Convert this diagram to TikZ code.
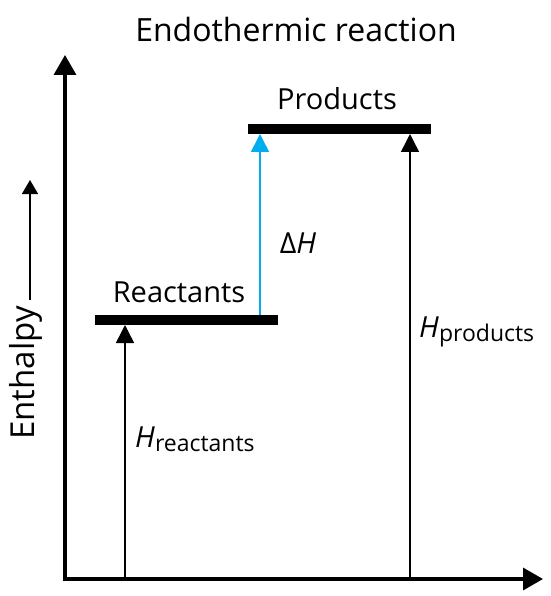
\documentclass[tikz,border=0pt]{standalone}
\usepackage{fontspec}
\setmainfont{Open Sans}
\usetikzlibrary{arrows.meta}
\definecolor{dhblue}{RGB}{0,174,239}
\newcommand{\subsz}[1]{\raisebox{-4pt}{\fontsize{23}{27}\selectfont #1}}
\begin{document}
\begin{tikzpicture}[x=1pt,y=-1pt,
  axis/.style={line width=3.5pt,-{Triangle[length=20pt,width=22pt]}},
  level/.style={line width=10pt},
  harrow/.style={line width=1.5pt,-{Triangle[length=18pt,width=18pt]}},
  lbl/.style={font=\fontsize{29}{33}\selectfont,inner sep=0pt}]
\useasboundingbox (0,0) rectangle (550,596);
\coordinate (ytop) at (65,55);
\coordinate (xend) at (543,579);
\coordinate (ybot) at (65,581);
\coordinate (xbeg) at (63,579);
\draw[axis] (ybot) -- (ytop);
\draw[axis] (xbeg) -- (xend);
\node[lbl,font=\fontsize{32}{36}\selectfont] (title) at (296,30) {Endothermic reaction};
% levels
\coordinate (rL) at (95,320); \coordinate (rR) at (278,320);
\coordinate (pL) at (248,129); \coordinate (pR) at (431,129);
\draw[level] (rL) -- (rR);
\draw[level] (pL) -- (pR);
\node[lbl] (react) at (179,292) {Reactants};
\node[lbl] (prod) at (337,99) {Products};
% arrows
\coordinate (hrb) at (125,579); \coordinate (hrt) at (125,325);
\coordinate (hpb) at (410,579); \coordinate (hpt) at (410,134);
\coordinate (dhb) at (260,315); \coordinate (dht) at (260,134);
\draw[harrow] (hrb) -- (hrt);
\draw[harrow] (hpb) -- (hpt);
\draw[harrow,dhblue] (dhb) -- (dht);
\node[lbl] (dH) at (298,243) {Δ\textit{H}};
\node[lbl,anchor=base west] (Hp) at (419,337) {\textit{H}\subsz{products}};
\node[lbl,anchor=base west] (Hr) at (135,447) {\textit{H}\subsz{reactants}};
% Enthalpy axis label
\node[lbl,font=\fontsize{33}{37}\selectfont,rotate=90,anchor=base] (enth) at (34,373) {Enthalpy};
\coordinate (ea) at (30,180);
\coordinate (eb) at (30,300);
\draw[line width=1.5pt,-{Triangle[length=14pt,width=16pt]}] (eb) -- (ea);
\end{tikzpicture}
\end{document}
